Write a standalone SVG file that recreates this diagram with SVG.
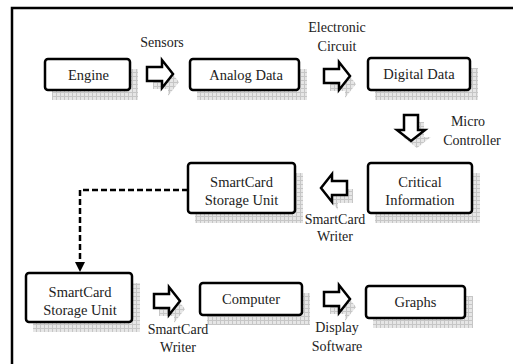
<svg xmlns="http://www.w3.org/2000/svg" width="513" height="364" viewBox="0 0 513 364">
<defs>
<pattern id="grid" width="4" height="4" patternUnits="userSpaceOnUse">
<rect width="4" height="4" fill="#e6e6e6"/>
<path d="M0 0.5H4M0.5 0V4" stroke="#c6c6c6" stroke-width="1"/>
</pattern>
<marker id="ah" viewBox="0 0 10 10" refX="9" refY="5" markerWidth="4" markerHeight="4" orient="auto">
<path d="M0 0L10 5L0 10z" fill="#000"/>
</marker>
<path id="ar" d="M0 -7H15V-14L26 0L15 14V7H0Z"/>
</defs>
<style>
.box{fill:#fff;stroke:#000;stroke-width:2.5}
.sh{fill:url(#grid)}
.arw{fill:#fff;stroke:#000;stroke-width:2.5;stroke-linejoin:miter}
.ash{fill:url(#grid)}
text{font-family:"Liberation Serif","DejaVu Serif","Times New Roman",serif;text-anchor:middle;fill:#222}
.t{font-size:14.5px}
.l{font-size:14px}
</style>
<rect x="12" y="8" width="520" height="400" fill="#fff" stroke="#000" stroke-width="2.5"/>

<g id="engine">
<rect class="sh" x="52" y="69" width="86" height="31"/>
<rect class="box" x="45" y="59" width="85" height="31" rx="3"/>
<text class="t" x="88.5" y="79.5">Engine</text>
</g>
<g id="analog">
<rect class="sh" x="197" y="69" width="110" height="31"/>
<rect class="box" x="190" y="59" width="109" height="31" rx="3"/>
<text class="t" x="246" y="79.5">Analog Data</text>
</g>
<g id="digital">
<rect class="sh" x="375" y="68" width="103" height="32"/>
<rect class="box" x="368" y="58" width="102" height="32" rx="3"/>
<text class="t" x="419" y="79">Digital Data</text>
</g>
<g id="critical">
<rect class="sh" x="375" y="173" width="105" height="50"/>
<rect class="box" x="368" y="163" width="104" height="50" rx="3"/>
<text class="t" x="420" y="187">Critical</text>
<text class="t" x="420" y="205">Information</text>
</g>
<g id="storage1">
<rect class="sh" x="195" y="173" width="108" height="50"/>
<rect class="box" x="188" y="163" width="107" height="50" rx="3"/>
<text class="t" x="241.5" y="187">SmartCard</text>
<text class="t" x="241.5" y="205">Storage Unit</text>
</g>
<g id="storage2">
<rect class="sh" x="33" y="283" width="107" height="49"/>
<rect class="box" x="26" y="273" width="106" height="49" rx="3"/>
<text class="t" x="80" y="297">SmartCard</text>
<text class="t" x="80" y="315">Storage Unit</text>
</g>
<g id="computer">
<rect class="sh" x="207" y="293" width="103" height="32"/>
<rect class="box" x="200" y="283" width="102" height="32" rx="3"/>
<text class="t" x="251" y="304">Computer</text>
</g>
<g id="graphs">
<rect class="sh" x="373" y="296" width="100" height="32"/>
<rect class="box" x="366" y="286" width="99" height="32" rx="3"/>
<text class="t" x="415.5" y="307">Graphs</text>
</g>

<g id="connectors">
<use href="#ar" class="ash" transform="translate(153,82)"/>
<use href="#ar" class="arw" transform="translate(147,74)"/>
<text class="l" x="162" y="47">Sensors</text>

<use href="#ar" class="ash" transform="translate(330,84)"/>
<use href="#ar" class="arw" transform="translate(324,76)"/>
<text class="l" x="337" y="32">Electronic</text>
<text class="l" x="337" y="51">Circuit</text>

<use href="#ar" class="ash" transform="translate(417,122) rotate(90)"/>
<use href="#ar" class="arw" transform="translate(411,115) rotate(90)"/>
<text class="l" x="468" y="126">Micro</text>
<text class="l" x="472" y="145">Controller</text>

<use href="#ar" class="ash" transform="translate(353,196) rotate(180)"/>
<use href="#ar" class="arw" transform="translate(347,188) rotate(180)"/>
<text class="l" x="335" y="224">SmartCard</text>
<text class="l" x="335" y="241">Writer</text>

<path d="M188 190H80V271" fill="none" stroke="#000" stroke-width="2.5" stroke-dasharray="6,3" marker-end="url(#ah)"/>

<use href="#ar" class="ash" transform="translate(159,309)"/>
<use href="#ar" class="arw" transform="translate(154,301)"/>
<text class="l" x="178" y="334">SmartCard</text>
<text class="l" x="178" y="352">Writer</text>

<use href="#ar" class="ash" transform="translate(330,307)"/>
<use href="#ar" class="arw" transform="translate(324,299)"/>
<text class="l" x="337" y="332">Display</text>
<text class="l" x="337" y="351">Software</text>
</g>
</svg>
